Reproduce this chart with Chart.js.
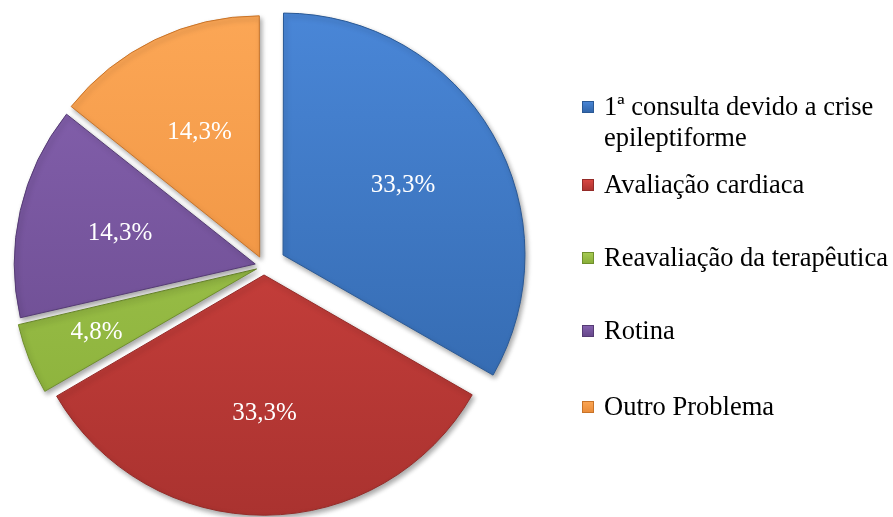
<!DOCTYPE html>
<html lang="pt">
<head>
    <meta charset="UTF-8">
    <title>Motivo da consulta</title>
    <script src="https://cdn.jsdelivr.net/npm/chart.js"></script>
    <style>
        body { margin: 0; background: #fff; }
        #wrap { position: relative; width: 893px; height: 517px; }
        #legend { position: absolute; left: 582px; top: 0; font-family: "Liberation Serif", "Times New Roman", serif; font-size: 26.5px; color: #000; }
        .item { position: absolute; left: 0; width: 310px; line-height: 31px; }
        .box { position: absolute; left: 0; width: 12px; height: 12px; }
        .txt { position: absolute; left: 22px; white-space: nowrap; }
    </style>
</head>
<body>
<div id="wrap">
    <canvas id="chart" width="893" height="517"></canvas>
    <div id="legend"></div>
</div>

<script>
    const categories = [['1ª consulta devido a crise', 'epileptiforme'], 'Avaliação cardiaca', 'Reavaliação da terapêutica', 'Rotina', 'Outro Problema'];
    const percentages = [33.3, 33.3, 4.8, 14.3, 14.3];
    const valueLabels = ['33,3%', '33,3%', '4,8%', '14,3%', '14,3%'];

    // light / dark shade of each slice
    const topColors = ['#4a87d8', '#dc4844', '#a8cc55', '#8763b1', '#fca756'];
    const bottomColors = ['#2f63a6', '#a9322f', '#86ac36', '#644687', '#e88a38'];
    const edgeColors = ['#2a5995', '#942b28', '#6f8f2c', '#553b74', '#c87328'];

    // chart.js v4 moves an arc by offset / 4 pixels
    const explode = [88, 36, 32, 36, 40];
    const labelPos = [0.58, 0.58, 0.72, 0.58, 0.58];

    function sliceFill(ctx) {
        const chart = ctx.chart;
        const i = ctx.dataIndex;
        const g = chart.ctx.createLinearGradient(0, 15, 0, 517);
        g.addColorStop(0, topColors[i]);
        g.addColorStop(1, bottomColors[i]);
        return g;
    }

    const shadowPlugin = {
        id: 'shadow',
        beforeDatasetsDraw(chart) {
            const c = chart.ctx;
            c.save();
            c.shadowColor = 'rgba(0,0,0,0.35)';
            c.shadowBlur = 5;
            c.shadowOffsetX = 2;
            c.shadowOffsetY = 3;
        },
        afterDatasetsDraw(chart) {
            chart.ctx.restore();
            // percentage labels
            const c = chart.ctx;
            const arcs = chart.getDatasetMeta(0).data;
            c.save();
            c.font = '25px "Liberation Serif", "Times New Roman", serif';
            c.fillStyle = '#ffffff';
            c.textAlign = 'center';
            c.textBaseline = 'middle';
            arcs.forEach((arc, i) => {
                const mid = (arc.startAngle + arc.endAngle) / 2;
                const r = arc.options.offset / 4 + labelPos[i] * arc.outerRadius;
                c.fillText(valueLabels[i], arc.x + Math.cos(mid) * r, arc.y + Math.sin(mid) * r);
            });
            c.restore();
        }
    };

    new Chart(document.getElementById('chart'), {
        type: 'pie',
        data: {
            labels: categories,
            datasets: [{
                data: percentages,
                backgroundColor: sliceFill,
                borderColor: edgeColors,
                borderWidth: 1,
                offset: explode,
                hoverOffset: 0
            }]
        },
        options: {
            responsive: false,
            animation: false,
            radius: 239,
            layout: { padding: { left: 15, right: 380, top: 15, bottom: 0 } },
            plugins: {
                legend: { display: false },
                tooltip: { enabled: false }
            }
        },
        plugins: [shadowPlugin]
    });

    // legend
    const legendTops = [91, 169, 242, 315, 391];
    const legend = document.getElementById('legend');
    categories.forEach((name, i) => {
        const item = document.createElement('div');
        item.className = 'item';
        item.style.top = legendTops[i] + 'px';
        const box = document.createElement('div');
        box.className = 'box';
        box.style.top = '10px';
        box.style.background = 'linear-gradient(' + topColors[i] + ',' + bottomColors[i] + ')';
        box.style.boxShadow = 'inset 0 0 0 1px ' + edgeColors[i];
        const txt = document.createElement('div');
        txt.className = 'txt';
        txt.innerHTML = Array.isArray(name) ? name.join('<br>') : name;
        item.appendChild(box);
        item.appendChild(txt);
        legend.appendChild(item);
    });
</script>
</body>
</html>
